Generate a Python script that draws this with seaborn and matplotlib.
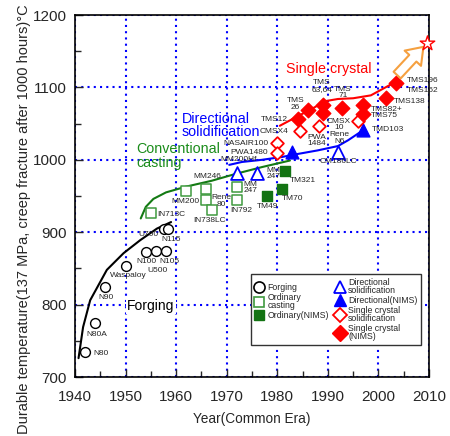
import matplotlib
matplotlib.use("Agg")
import matplotlib.pyplot as plt
from matplotlib.lines import Line2D
import seaborn as sns

# ---------------- data ----------------
forging_names = ["N80", "N80A", "N90", "Waspaloy", "N100", "U500", "N105", "U700", "N115"]
forging_years = [1942, 1944, 1946, 1950, 1954, 1956, 1958, 1957.5, 1958.3]
forging_temps = [734, 774, 824, 854, 872, 874, 874, 904, 904]

casting_years = [1955, 1962, 1966, 1966, 1967, 1972, 1972]
casting_temps = [926, 957, 960, 945, 930, 962, 945]

casting_nims_years = [1978, 1981, 1981.5]
casting_nims_temps = [950, 960, 985]

ds_years = [1972, 1976, 1992]
ds_temps = [982, 982, 1011]

ds_nims_years = [1983, 1997]
ds_nims_temps = [1011, 1041]

sc_years = [1980, 1980, 1984.5, 1988.3, 1996]
sc_temps = [1023, 1009, 1040, 1046, 1054]

sc_nims_years = [1984, 1986, 1989, 1989, 1992.8, 1997, 1997, 2001.5, 2003.5]
sc_nims_temps = [1056, 1069, 1076, 1064, 1072, 1076, 1063, 1085, 1106]

# trend curves
forging_curve_x = [1940.7, 1941.6, 1943, 1946.3, 1949.6, 1952.9, 1956.2, 1959]
forging_curve_y = [726, 769, 806, 848, 871, 889, 905, 914]
casting_curve_x = [1953, 1954, 1955.5, 1958, 1962, 1967, 1972, 1977, 1982.5]
casting_curve_y = [919, 935, 946, 955, 963, 971, 981, 990, 999]
ds_curve_x = [1970.5, 1973, 1977, 1981, 1984, 1988, 1992, 1994, 1997]
ds_curve_y = [993, 997, 1000, 1004, 1008, 1013, 1019, 1027, 1041]
sc_curve_x = [1980.5, 1984, 1987, 1989.5, 1992, 1995, 1998.5, 2003.5]
sc_curve_y = [1047, 1060, 1071, 1081, 1084, 1085, 1089, 1108]

future_year = [2009.7]
future_temp = [1161]

# ---------------- layout of text ----------------
point_labels = [
    ("N80", 1943.6, 733, "left"), ("N80A", 1942.3, 759, "left"),
    ("N90", 1944.6, 810, "left"), ("Waspaloy", 1946.9, 840, "left"),
    ("N100", 1952.1, 859, "left"), ("U500", 1954.4, 847, "left"),
    ("N105", 1956.6, 859, "left"), ("U700", 1952.5, 897, "left"),
    ("N115", 1957.1, 890, "left"),
    ("IN713C", 1956.3, 925, "left"), ("MM200", 1959.1, 943, "left"),
    ("MM246", 1963.4, 977.6, "left"), ("Rene\n80", 1968.9, 943, "center"),
    ("IN738LC", 1963.4, 916, "left"), ("MM\n247", 1973.3, 962, "left"),
    ("IN792", 1970.7, 930.6, "left"), ("MM\n247", 1977.8, 981, "left"),
    ("MM200Hf", 1975.9, 1000.5, "right"), ("TM49", 1975.9, 936, "left"),
    ("TM70", 1980.9, 946, "left"), ("TM321", 1982.4, 971, "left"),
    ("NASAIR100", 1978.2, 1022.6, "right"), ("PWA1480", 1978.2, 1010, "right"),
    ("CMSX4", 1982.2, 1039, "right"), ("TMS12", 1982, 1055, "right"),
    ("TMS\n26", 1983.6, 1077, "center"), ("TMS\n63,64", 1988.8, 1102, "center"),
    ("TMS\n71", 1993, 1093, "center"), ("PWA\n1484", 1987.8, 1027, "center"),
    ("CMSX\n10", 1992.2, 1049, "center"), ("Rene\nN6", 1992.3, 1030, "center"),
    ("CM186LC", 1992.1, 998, "center"), ("TMD103", 1998.7, 1042, "left"),
    ("TMS82+", 1998.6, 1070, "left"), ("TMS75", 1998.6, 1060.5, "left"),
    ("TMS138", 2003, 1081, "left"), ("TMS196", 2005.6, 1109, "left"),
    ("TMS162", 2005.6, 1096, "left"),
]

C_BLACK = "black"
C_GREEN_LINE = "#137a13"
C_GREEN_OPEN = "#3f9a3f"
C_GREEN_FILL = "#137313"
C_GREEN_TEXT = "#1a8c1a"
C_BLUE = "#0000ff"
C_RED = "#ff0000"
C_ORANGE = "#f5a040"

sns.set_style("white")
plt.rcParams["font.family"] = ["Liberation Sans", "DejaVu Sans"]

fig = plt.figure(figsize=(4.5, 4.36), dpi=100)
ax = fig.add_axes([75 / 450, 1 - 377 / 436, (429 - 75) / 450, (377 - 15) / 436])

# trend lines
for xs, ys, col in [(forging_curve_x, forging_curve_y, C_BLACK),
                    (casting_curve_x, casting_curve_y, C_GREEN_LINE),
                    (ds_curve_x, ds_curve_y, C_BLUE),
                    (sc_curve_x, sc_curve_y, C_RED)]:
    sns.lineplot(x=xs, y=ys, sort=False, estimator=None, color=col, lw=1.5, ax=ax, zorder=3)

def pts(xs, ys, marker, s, fc, ec, lw=1.0):
    sns.scatterplot(x=xs, y=ys, marker=marker, s=s, color=fc, edgecolor=ec,
                    linewidth=lw, ax=ax, zorder=4, legend=False)

pts(forging_years, forging_temps, "o", 50, "white", C_BLACK)
pts(casting_years, casting_temps, "s", 48, "white", C_GREEN_OPEN, 1.1)
pts(casting_nims_years, casting_nims_temps, "s", 48, C_GREEN_FILL, C_GREEN_FILL)
pts(ds_years, ds_temps, "^", 85, "white", C_BLUE, 1.3)
pts(ds_nims_years, ds_nims_temps, "^", 85, C_BLUE, C_BLUE)
pts(sc_years, sc_temps, "D", 42, "white", C_RED, 1.3)
pts(sc_nims_years, sc_nims_temps, "D", 55, C_RED, C_RED)

# future arrow and star
ax.annotate("", xy=(2008.9, 1156), xytext=(2003.7, 1117),
            arrowprops=dict(arrowstyle="simple,head_length=0.8,head_width=1.15,tail_width=0.5",
                            fc="white", ec=C_ORANGE, lw=1.5, mutation_scale=14,
                            shrinkA=0, shrinkB=0), zorder=5)
sns.scatterplot(x=future_year, y=future_temp, marker="*", s=120, color="white",
                edgecolor=C_RED, linewidth=1.0, ax=ax, zorder=6, legend=False, clip_on=False)

for txt, x, y, ha in point_labels:
    ax.text(x, y, txt, ha=ha, va="center", fontsize=6, linespacing=0.9, zorder=7)

ax.text(1950.3, 798, "Forging", fontsize=10, color=C_BLACK, va="center", ha="left",
        bbox=dict(fc="white", ec="none", pad=1), zorder=7)
ax.text(1952.2, 1005.5, "Conventional\ncasting", fontsize=10.3, color=C_GREEN_TEXT,
        va="center", ha="left", linespacing=0.95, zorder=7)
ax.text(1961.1, 1047, "Directional\nsolidification", fontsize=10.3, color=C_BLUE,
        va="center", ha="left", linespacing=0.95, zorder=7)
ax.text(1981.7, 1125, "Single crystal", fontsize=10.3, color=C_RED,
        va="center", ha="left", zorder=7)

ax.set_xlim(1940, 2010)
ax.set_ylim(700, 1200)
ax.set_xticks(range(1940, 2011, 10))
ax.set_yticks(range(700, 1201, 100))
ax.set_xticks(range(1945, 2010, 10), minor=True)
ax.set_yticks(range(750, 1200, 100), minor=True)
ax.tick_params(which="major", direction="in", length=6, width=1, labelsize=11, pad=6,
               bottom=True, left=True)
ax.tick_params(axis="x", which="major", pad=9)
ax.tick_params(which="minor", direction="in", length=4, width=1, bottom=True, left=True)
ax.grid(True, which="major", color=C_BLUE, linestyle=(0, (1, 2)), linewidth=1.5, zorder=0)
ax.set_axisbelow(True)
for sp in ax.spines.values():
    sp.set_color("black")
    sp.set_linewidth(1.2)

ax.set_xlabel("Year(Common Era)", fontsize=9.8)
ax.set_ylabel("Durable temperature(137 MPa, creep fracture after 1000 hours)°C",
              fontsize=10.5)
ax.xaxis.set_label_coords(0.5, -0.097)
ax.yaxis.set_label_coords(-0.125, 0.436)

handles = [
    Line2D([], [], ls="none", marker="o", ms=8, mfc="white", mec="black", mew=1.2),
    Line2D([], [], ls="none", marker="s", ms=7, mfc="white", mec=C_GREEN_OPEN, mew=1.2),
    Line2D([], [], ls="none", marker="s", ms=7, mfc=C_GREEN_FILL, mec=C_GREEN_FILL),
    Line2D([], [], ls="none", marker=None),
    Line2D([], [], ls="none", marker="^", ms=9, mfc="white", mec=C_BLUE, mew=1.3),
    Line2D([], [], ls="none", marker="^", ms=9, mfc=C_BLUE, mec=C_BLUE),
    Line2D([], [], ls="none", marker="D", ms=7, mfc="white", mec=C_RED, mew=1.3),
    Line2D([], [], ls="none", marker="D", ms=8, mfc=C_RED, mec=C_RED),
]
labels = ["Forging", "Ordinary\ncasting", "Ordinary(NIMS)", "",
          "Directional\nsolidification", "Directional(NIMS)",
          "Single crystal\nsolidification", "Single crystal\n(NIMS)"]
leg = ax.legend(handles, labels, ncol=2, loc="lower left", bbox_to_anchor=(0.485, 0.076),
                fontsize=6.3, frameon=True, fancybox=False, framealpha=1,
                edgecolor="#333333", handlelength=1.0, handletextpad=0.4,
                labelspacing=0.12, columnspacing=0.8, borderpad=0.45)
leg.get_frame().set_linewidth(1.0)
for t in leg.get_texts():
    t.set_linespacing(0.85)

fig.savefig("out.png", dpi=100)
